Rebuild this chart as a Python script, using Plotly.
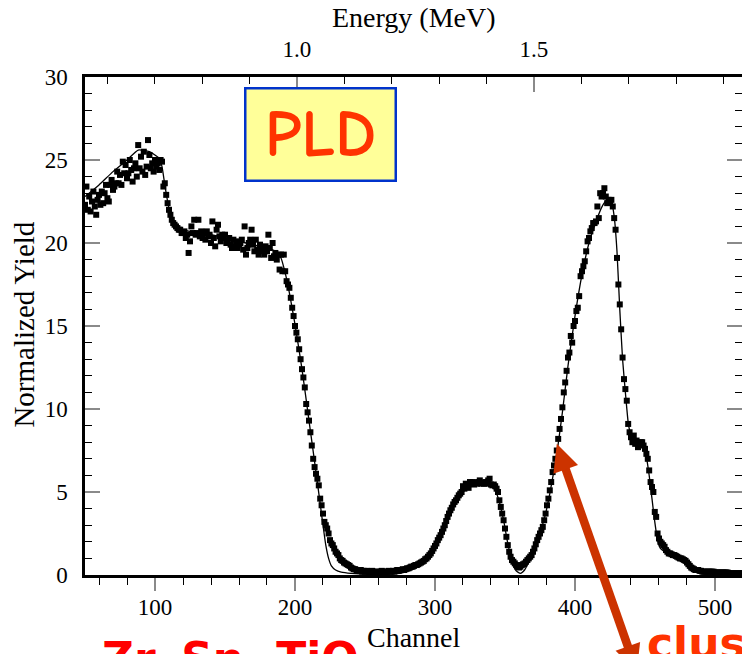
import math
import plotly.graph_objects as go

# Measured RBS spectrum: one normalized yield value per channel, starting at channel 50
start_channel = 50
yield_data = [
    22.3, 23.4, 22.0, 22.8, 21.9, 22.5, 23.1, 22.2, 21.7, 22.6,
    22.9, 22.3, 23.1, 22.4, 23.0, 23.5, 22.7, 22.5, 23.5, 23.8,
    23.2, 23.4, 23.6, 24.3, 23.6, 24.1, 23.5, 24.9, 24.2, 24.7,
    23.9, 24.2, 25.0, 24.4, 23.7, 24.5, 24.8, 24.0, 25.9, 24.5,
    25.2, 24.3, 25.5, 24.1, 24.6, 26.2, 25.3, 24.5, 24.8, 24.3,
    25.0, 24.6, 24.8, 24.4, 25.0, 24.9, 23.4, 23.6, 22.9, 22.4,
    22.0, 21.7, 21.4, 21.2, 21.1, 21.0, 20.9, 20.8, 20.8, 20.6,
    20.6, 20.7, 20.3, 20.5, 19.4, 20.1, 21.0, 20.6, 21.4, 20.5,
    20.6, 21.4, 20.4, 20.7, 20.3, 20.6, 20.2, 20.7, 20.4, 20.5,
    20.0, 21.3, 20.3, 19.8, 20.8, 21.1, 20.4, 20.1, 20.5, 20.3,
    20.5, 20.0, 20.1, 20.3, 19.9, 19.7, 20.2, 19.8, 20.1, 19.7,
    19.9, 20.0, 20.2, 19.6, 21.0, 19.3, 19.7, 20.0, 20.2, 20.8,
    19.9, 19.5, 20.2, 19.6, 19.3, 19.9, 19.6, 19.5, 19.3, 19.8,
    19.5, 20.5, 19.7, 19.1, 20.0, 19.2, 19.4, 19.0, 19.3, 18.4,
    19.3, 18.3, 19.3, 18.3, 17.7, 17.5, 17.3, 16.7, 16.1, 15.6,
    15.0, 14.6, 14.2, 13.6, 13.0, 12.4, 11.9, 11.3, 10.3, 9.8,
    9.3, 8.6, 7.8, 7.0, 6.5, 6.1, 5.8, 5.4, 4.6, 4.2,
    3.7, 3.2, 3.0, 2.8, 2.5, 2.1, 1.9, 1.8, 1.6, 1.4,
    1.3, 1.2, 1.0, 0.9, 0.85, 0.75, 0.7, 0.65, 0.6, 0.55,
    0.45, 0.4, 0.35, 0.35, 0.3, 0.3, 0.25, 0.3, 0.2, 0.25,
    0.2, 0.25, 0.2, 0.15, 0.2, 0.25, 0.2, 0.15, 0.2, 0.2,
    0.15, 0.2, 0.25, 0.2, 0.15, 0.2, 0.2, 0.25, 0.2, 0.2,
    0.25, 0.2, 0.25, 0.3, 0.25, 0.3, 0.3, 0.35, 0.3, 0.35,
    0.4, 0.4, 0.45, 0.5, 0.5, 0.55, 0.6, 0.6, 0.65, 0.7,
    0.75, 0.8, 0.85, 0.95, 1.0, 1.1, 1.2, 1.3, 1.45, 1.6,
    1.75, 1.9, 2.1, 2.25, 2.4, 2.6, 2.8, 3.0, 3.25, 3.5,
    3.7, 3.9, 4.05, 4.25, 4.4, 4.5, 4.65, 4.8, 4.9, 5.0,
    5.35, 5.2, 5.5, 5.4, 5.25, 5.6, 5.5, 5.6, 5.45, 5.55,
    5.5, 5.6, 5.7, 5.5, 5.55, 5.5, 5.6, 5.5, 5.7, 5.8,
    5.45, 5.4, 5.45, 5.35, 5.2, 5.0, 4.5, 4.1, 3.7, 3.3,
    2.8, 2.3, 1.8, 1.4, 1.1, 0.9, 0.8, 0.7, 0.6, 0.5,
    0.45, 0.5, 0.6, 0.65, 0.7, 0.8, 0.9, 1.0, 1.1, 1.2,
    1.4, 1.6, 1.85, 2.1, 2.3, 2.5, 2.7, 2.9, 3.3, 3.7,
    4.2, 4.6, 5.1, 5.6, 6.2, 6.6, 7.0, 7.5, 8.2, 8.8,
    9.4, 10.1, 11.0, 11.6, 12.3, 13.1, 13.4, 14.4, 14.0, 15.0,
    15.3, 15.9, 16.1, 16.8, 18.0, 18.3, 18.6, 18.9, 19.5, 20.1,
    20.3, 20.7, 20.9, 21.2, 21.2, 21.3, 22.2, 21.5, 23.0, 22.8,
    23.0, 23.3, 22.8, 22.4, 22.6, 22.5, 22.6, 22.2, 21.5, 20.8,
    19.1, 17.5, 16.3, 14.8, 13.1, 11.8, 11.2, 10.5, 9.1, 8.6,
    8.3, 8.0, 8.4, 7.9, 8.1, 7.7, 7.9, 8.0, 8.0, 7.8,
    7.6, 7.3, 7.0, 6.3, 5.6, 5.3, 5.0, 3.8, 3.5, 2.5,
    2.2, 2.0, 1.9, 1.8, 1.7, 1.5, 1.4, 1.3, 1.3, 1.25,
    1.2, 1.2, 1.15, 1.1, 1.05, 1.0, 1.0, 0.95, 0.9, 0.85,
    0.75, 0.65, 0.55, 0.45, 0.4, 0.35, 0.3, 0.3, 0.3, 0.25,
    0.25, 0.2, 0.2, 0.2, 0.2, 0.2, 0.2, 0.2, 0.2, 0.2,
    0.15, 0.15, 0.15, 0.15, 0.15, 0.15, 0.15, 0.15, 0.15, 0.15,
    0.1, 0.1, 0.1, 0.1, 0.1, 0.1, 0.1, 0.1, 0.1, 0.1,
    0.1,
]
channel = list(range(start_channel, start_channel + len(yield_data)))

# Simulated spectrum (fit), sampled at selected channels
fit_channel = [
    50, 60, 70, 80, 88, 96, 103, 105, 107, 109, 111, 113, 116, 120, 130, 140,
    150, 160, 170, 180, 186, 190, 193, 196, 200, 205, 210, 215, 218, 220, 222,
    224, 226, 229, 233, 240, 260, 275, 283, 290, 295, 300, 305, 310, 315, 320,
    325, 330, 335, 340, 343, 346, 349, 352, 355, 358, 361, 364, 367, 370, 373,
    376, 379, 382, 385, 388, 391, 395, 400, 405, 410, 415, 420, 424, 426, 428,
    430, 432, 434, 436, 438, 440, 443, 446, 449, 451, 453, 455, 457, 459, 461,
    464, 468, 472, 476, 479, 482, 486, 490, 500, 520,
]
fit_yield = [
    22.8, 23.5, 24.3, 25.0, 25.6, 25.5, 25.1, 24.6, 23.5, 22.5, 21.7, 21.2, 20.9,
    20.8, 20.6, 20.5, 20.3, 20.1, 19.9, 19.7, 19.5, 19.1, 18.2, 17.0, 15.1, 12.4,
    9.3, 6.2, 4.3, 3.0, 1.8, 1.0, 0.55, 0.3, 0.17, 0.1, 0.05, 0.1, 0.3, 0.7, 1.1,
    1.7, 2.5, 3.5, 4.4, 5.0, 5.3, 5.4, 5.45, 5.35, 5.1, 4.4, 3.3, 1.9, 0.8, 0.25,
    0.1, 0.3, 0.8, 1.4, 2.1, 2.8, 3.7, 4.9, 6.3, 7.9, 9.8, 12.6, 15.6, 18.1, 20.0,
    21.3, 22.3, 22.7, 22.5, 21.6, 19.5, 16.0, 13.0, 11.0, 9.2, 8.4, 8.1, 8.0, 7.7,
    7.1, 6.0, 4.6, 3.2, 2.1, 1.6, 1.4, 1.25, 1.1, 1.0, 0.8, 0.5, 0.25, 0.15, 0.08,
    0.03,
]

# Spectrum feature the arrow points at (channel, yield)
arrow_target = (387.0, 7.9)

# Axis limits and energy calibration (channel -> MeV) for the top scale
channel_range = [50, 519.3]
yield_range = [0, 30]
calib_channel = [201.4, 370.7]
calib_energy = [1.0, 1.5]
mev_per_channel = (calib_energy[1] - calib_energy[0]) / (calib_channel[1] - calib_channel[0])
energy_range = [calib_energy[0] + (c - calib_channel[0]) * mev_per_channel for c in channel_range]

FIG_W, FIG_H = 742, 654
M_L, M_R, M_T, M_B = 85, 0, 77, 79
PLOT_W = FIG_W - M_L - M_R
PLOT_H = FIG_H - M_T - M_B

SERIF = "Liberation Serif, Times New Roman, serif"
HAND = "Comic Sans MS, Comic Neue, Noto Sans, DejaVu Sans, sans-serif"
HAND_WIDE = "DejaVu Sans, sans-serif"
TICK_GREY = "#8a8a8a"
ARROW_RED = "#cc3300"


def data_to_px(ch, val):
    px = M_L + (ch - channel_range[0]) / (channel_range[1] - channel_range[0]) * PLOT_W
    py = M_T + (yield_range[1] - val) / (yield_range[1] - yield_range[0]) * PLOT_H
    return px, py


def px_to_paper(px, py):
    return (px - M_L) / PLOT_W, (FIG_H - M_B - py) / PLOT_H


def arrow_shapes(tip_px, tail_px, shaft_w=8.5, head_len=27, head_half=13):
    """Double-headed thick arrow built as paper-referenced shapes."""
    (x0, y0), (x1, y1) = tip_px, tail_px
    dx, dy = x1 - x0, y1 - y0
    n = math.hypot(dx, dy)
    ux, uy = dx / n, dy / n
    nx, ny = -uy, ux
    shapes = []
    # shaft between the two head bases
    a = (x0 + ux * head_len * 0.7, y0 + uy * head_len * 0.7)
    b = (x1 - ux * head_len * 0.7, y1 - uy * head_len * 0.7)
    pa, pb = px_to_paper(*a), px_to_paper(*b)
    shapes.append(dict(type="line", xref="paper", yref="paper",
                       x0=pa[0], y0=pa[1], x1=pb[0], y1=pb[1],
                       line=dict(color=ARROW_RED, width=shaft_w), layer="above"))
    # heads
    for (tx, ty), s in (((x0, y0), 1), ((x1, y1), -1)):
        bx, by = tx + s * ux * head_len, ty + s * uy * head_len
        pts = [(tx, ty), (bx + nx * head_half, by + ny * head_half),
               (bx - nx * head_half, by - ny * head_half)]
        pp = [px_to_paper(*p) for p in pts]
        path = "M {} {} L {} {} L {} {} Z".format(pp[0][0], pp[0][1], pp[1][0], pp[1][1], pp[2][0], pp[2][1])
        shapes.append(dict(type="path", xref="paper", yref="paper", path=path,
                           fillcolor=ARROW_RED, line=dict(width=0), layer="above"))
    return shapes


fig = go.Figure()

fig.add_trace(go.Scatter(
    x=fit_channel, y=fit_yield, mode="lines",
    line=dict(color="black", width=1.3, shape="spline", smoothing=0.5),
    hoverinfo="skip", showlegend=False,
))
fig.add_trace(go.Scatter(
    x=channel, y=yield_data, mode="markers",
    marker=dict(symbol="square", size=6, color="black", line=dict(width=0)),
    showlegend=False,
))
# carrier trace for the energy (top) and mirrored right axes
fig.add_trace(go.Scatter(x=[], y=[], xaxis="x2", yaxis="y2", showlegend=False, hoverinfo="skip"))

fig.update_layout(
    width=FIG_W, height=FIG_H,
    margin=dict(l=M_L, r=M_R, t=M_T, b=M_B),
    paper_bgcolor="white", plot_bgcolor="white",
    showlegend=False,
    font=dict(family=SERIF, color="black", size=23),
    xaxis=dict(
        range=channel_range, showgrid=False, zeroline=False,
        showline=True, linecolor="black", linewidth=2.5,
        ticks="outside", tickcolor=TICK_GREY, ticklen=13, tickwidth=1.5,
        dtick=100, tick0=0, ticklabelstandoff=-3,
        minor=dict(dtick=20, tick0=0, ticks="outside", ticklen=7, tickcolor="black", tickwidth=1.2),
        tickfont=dict(family=SERIF, size=23),
    ),
    yaxis=dict(
        range=yield_range, showgrid=False, zeroline=False,
        showline=True, linecolor="black", linewidth=2.5,
        ticks="inside", tickcolor=TICK_GREY, ticklen=15, tickwidth=1.5,
        dtick=5, tick0=0, ticklabelstandoff=10,
        minor=dict(dtick=1, tick0=0, ticks="inside", ticklen=7, tickcolor="black", tickwidth=1.2),
        tickfont=dict(family=SERIF, size=23),
    ),
    xaxis2=dict(
        overlaying="x", side="top", range=energy_range,
        showgrid=False, zeroline=False,
        showline=True, linecolor="black", linewidth=2.5,
        ticks="inside", tickcolor=TICK_GREY, ticklen=15, tickwidth=1.5,
        dtick=0.5, tick0=0, tickformat=".1f", ticklabelstandoff=8,
        minor=dict(dtick=0.1, tick0=0, ticks="inside", ticklen=7, tickcolor="black", tickwidth=1.2),
        tickfont=dict(family=SERIF, size=23),
    ),
    yaxis2=dict(
        overlaying="y", side="right", range=yield_range,
        showgrid=False, zeroline=False, showline=False, showticklabels=False,
        ticks="inside", tickcolor=TICK_GREY, ticklen=15, tickwidth=1.5,
        dtick=5, tick0=0,
        minor=dict(dtick=1, tick0=0, ticks="inside", ticklen=7, tickcolor="black", tickwidth=1.2),
    ),
)

annotations = [
    dict(text="Energy (MeV)", xref="paper", yref="paper", x=0.5, y=1.1185,
         xanchor="center", yanchor="middle", showarrow=False,
         font=dict(family=SERIF, size=28)),
    dict(text="Channel", xref="paper", yref="paper", x=0.5, y=-0.1245,
         xanchor="center", yanchor="middle", showarrow=False,
         font=dict(family=SERIF, size=28)),
    dict(text="Normalized Yield", xref="paper", yref="paper", x=-0.0935, y=0.502,
         xanchor="center", yanchor="middle", textangle=-90, showarrow=False,
         font=dict(family=SERIF, size=29)),
    dict(text="<b>PLD</b>", xref="paper", yref="paper", x=0.3577, y=0.8855,
         xanchor="center", yanchor="middle", showarrow=False,
         width=146, height=88, bgcolor="#ffff99", bordercolor="#0033cc", borderwidth=2.5,
         font=dict(family=HAND, size=66, color="#ff3300")),
    dict(text="<b>Zr, Sn, TiO₂</b>", xref="paper", yref="paper", x=(100 - 85) / PLOT_W, y=(575 - 659) / PLOT_H,
         xanchor="left", yanchor="middle", showarrow=False,
         font=dict(family=HAND_WIDE, size=44, color="#ff0000")),
    dict(text="<b>clusters</b>", xref="paper", yref="paper", x=(645 - 85) / PLOT_W, y=(575 - 643) / PLOT_H,
         xanchor="left", yanchor="middle", showarrow=False,
         font=dict(family=HAND_WIDE, size=44, color="#ff3300")),
]

tip = data_to_px(*arrow_target)
tail = (tip[0] + 80, tip[1] + 228)

fig.update_layout(annotations=annotations, shapes=arrow_shapes(tip, tail))

fig.write_html("out.html")
